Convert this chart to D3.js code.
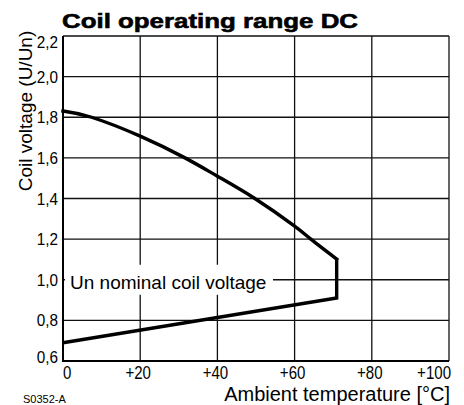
<!DOCTYPE html>
<html>
<head>
<meta charset="utf-8">
<script src="https://cdn.jsdelivr.net/npm/d3@7"></script>
<style>
  body { margin: 0; background: #fff; }
  svg { display: block; }
  text { fill: #000; font-family: "Liberation Sans", Arial, sans-serif; }
</style>
</head>
<body>
<svg id="chart"></svg>
<script>
const width = 464;
const height = 405;

// x axis: ambient temperature (°C), y axis: coil voltage ratio U/Un
const xTicks = [0, 20, 40, 60, 80, 100];
const xTickLabels = ['0', '+20', '+40', '+60', '+80', '+100'];
const yTicks = [0.6, 0.8, 1.0, 1.2, 1.4, 1.6, 1.8, 2.0, 2.2];
const yTickLabels = ['0,6', '0,8', '1,0', '1,2', '1,4', '1,6', '1,8', '2,0', '2,2'];

// upper limit (max coil voltage)
const upperTemp = [0, 7.4, 20, 31.6, 40, 49.7, 60, 64.2, 70.9];
const upperVolt = [1.831, 1.8, 1.707, 1.6, 1.51, 1.4, 1.264, 1.2, 1.102];
// right edge and lower limit (min coil voltage)
const lowerTemp = [70.9, 70.9, 0];
const lowerVolt = [1.102, 0.91, 0.69];

const margin = { top: 36, right: 15, bottom: 44, left: 63 };

const svg = d3.select('#chart')
    .attr('width', width)
    .attr('height', height);

const x = d3.scaleLinear()
    .domain([0, 100])
    .range([margin.left, width - margin.right]);

const y = d3.scaleLinear()
    .domain([0.6, 2.2])
    .range([height - margin.bottom, margin.top]);

// grid
const grid = svg.append('g').attr('stroke', '#111').attr('stroke-width', 1.3);

grid.selectAll('line.h')
    .data(yTicks)
    .enter().append('line')
    .attr('class', 'h')
    .attr('x1', x(0)).attr('x2', x(100))
    .attr('y1', d => y(d)).attr('y2', d => y(d));

grid.selectAll('line.v')
    .data(xTicks)
    .enter().append('line')
    .attr('class', 'v')
    .attr('x1', d => x(d)).attr('x2', d => x(d))
    .attr('y1', y(0.6)).attr('y2', y(2.2));

// left and bottom axis lines are a bit heavier
svg.append('path')
    .attr('d', `M${x(0)},${y(2.2)}V${y(0.6)}H${x(100)}`)
    .attr('fill', 'none')
    .attr('stroke', '#000')
    .attr('stroke-width', 2);

// nominal voltage label with white box over the grid
const nominal = svg.append('g');
nominal.append('rect')
    .attr('x', x(0) + 2)
    .attr('y', y(1.0) - 15)
    .attr('width', 208)
    .attr('height', 30)
    .attr('fill', '#fff');
nominal.append('text')
    .attr('x', x(0) + 7)
    .attr('y', y(1.0) + 9)
    .attr('font-size', 19)
    .text('Un nominal coil voltage');

// operating range outline
const line = d3.line()
    .x(d => x(d[0]))
    .y(d => y(d[1]));

svg.append('path')
    .datum(upperTemp.map((t, i) => [t, upperVolt[i]]))
    .attr('d', line.curve(d3.curveNatural))
    .attr('fill', 'none')
    .attr('stroke', '#000')
    .attr('stroke-width', 3.4)
    .attr('stroke-linecap', 'square');

svg.append('path')
    .datum(lowerTemp.map((t, i) => [t, lowerVolt[i]]))
    .attr('d', line.curve(d3.curveLinear))
    .attr('fill', 'none')
    .attr('stroke', '#000')
    .attr('stroke-width', 3.4)
    .attr('stroke-linejoin', 'miter');

// y tick labels (condensed look)
svg.selectAll('text.tick-y')
    .data(yTicks)
    .enter().append('text')
    .attr('class', 'tick-y')
    .attr('transform', (d, i) => {
        const ty = y(d) + 6 + (i === yTicks.length - 1 ? 6 : 0) - (i === 0 ? 4 : 0);
        return `translate(${x(0) - 5},${ty}) scale(0.9,1)`;
    })
    .attr('text-anchor', 'end')
    .attr('font-size', 17)
    .text((d, i) => yTickLabels[i]);

// x tick labels (condensed look)
svg.selectAll('text.tick-x')
    .data(xTicks)
    .enter().append('text')
    .attr('class', 'tick-x')
    .attr('transform', (d, i) => {
        const tx = i === 0 ? x(d) : i === xTicks.length - 1 ? x(d) + 2 : x(d) - 2;
        return `translate(${tx},379) scale(0.86,1)`;
    })
    .attr('text-anchor', (d, i) => i === 0 ? 'start' : i === xTicks.length - 1 ? 'end' : 'middle')
    .attr('font-size', 17.5)
    .text((d, i) => xTickLabels[i]);

// titles
svg.append('text')
    .attr('x', 62)
    .attr('y', 28)
    .attr('font-size', 21)
    .attr('font-weight', 'bold')
    .attr('stroke', '#000')
    .attr('stroke-width', 0.6)
    .attr('textLength', 296)
    .attr('lengthAdjust', 'spacingAndGlyphs')
    .text('Coil operating range DC');

svg.append('text')
    .attr('transform', `translate(32, ${111}) rotate(-90)`)
    .attr('text-anchor', 'middle')
    .attr('font-size', 19)
    .text('Coil voltage (U/Un)');

svg.append('text')
    .attr('x', 450)
    .attr('y', 401)
    .attr('text-anchor', 'end')
    .attr('font-size', 20)
    .text('Ambient temperature [°C]');

svg.append('text')
    .attr('x', 23)
    .attr('y', 403)
    .attr('font-size', 11)
    .text('S0352-A');
</script>
</body>
</html>
